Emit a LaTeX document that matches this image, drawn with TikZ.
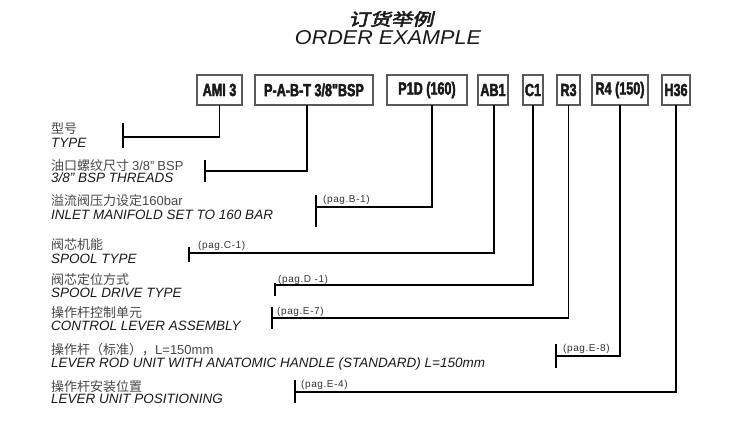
\documentclass[tikz,border=0pt]{standalone}
\usepackage{fontspec}
\setmainfont{Liberation Sans}
\newfontfamily\cjk{Noto Sans CJK SC}
\newfontfamily\lat{Liberation Sans}
\newfontfamily\cjktitle[FakeSlant=0.22,FakeStretch=1.25,FakeBold=3]{Noto Sans CJK SC}
\newfontfamily\titlefont[FakeStretch=1.08]{Liberation Sans}
\newfontfamily\boxfont[FakeStretch=0.72,FakeBold=2.5]{Liberation Sans Bold}
\newfontfamily\pagfont[LetterSpace=6]{Liberation Sans}
\begin{document}
\begin{tikzpicture}[x=1pt,y=-1pt,
  codebox/.style={draw=black!65, line width=1.2pt, minimum height=30pt, inner sep=0pt,
    font=\boxfont\fontsize{17.5}{17.5}\selectfont, text=black!90},
  conn/.style={line width=1.7pt, line cap=rect},
  tickline/.style={line width=1.7pt},
  pag/.style={anchor=base west, inner sep=0pt, font=\pagfont\fontsize{10}{10}\selectfont, text=black!80},
  zh/.style={anchor=base west, inner sep=0pt, font=\cjk\fontsize{13}{13}\selectfont, text=black!72},
  en/.style={anchor=base west, inner sep=0pt, font=\itshape\fontsize{13.5}{13.5}\selectfont, text=black!90}]
\useasboundingbox (0,0) rectangle (753,433);

% titles
\node[inner sep=0pt, font=\cjktitle\fontsize{17}{17}\selectfont, text=black!90] (tzh) at (391,19) {订货举例};
\node[anchor=base, inner sep=0pt, font=\titlefont\itshape\fontsize{20}{20}\selectfont, text=black!90] (ten) at (388,45) {ORDER EXAMPLE};

% code boxes
\node[codebox, minimum width=45pt]  (ami)  at (219.5,90) {AMI 3};
\node[codebox, minimum width=118pt] (pabt) at (314,90)   {P-A-B-T 3/8"BSP};
\node[codebox, minimum width=80pt]  (p1d)  at (427,90)   {P1D (160)};
\node[codebox, minimum width=30pt]  (ab1)  at (493,90)   {AB1};
\node[codebox, minimum width=20pt]  (c1)   at (533,90)   {C1};
\node[codebox, minimum width=23pt]  (r3)   at (568.5,90) {R3};
\node[codebox, minimum width=56pt]  (r4)   at (620,90)   {R4 (150)};
\node[codebox, minimum width=28pt]  (h36)  at (676,90)   {H36};

% left labels
\node[zh] (z1) at (51,134) {型号};
\node[en] (e1) at (51,148) {TYPE};
\node[zh] (z2) at (51,171) {油口螺纹尺寸 {\lat 3/8”} {\lat BSP}};
\node[en] (e2) at (51,183) {3/8" BSP THREADS};
\node[zh] (z3) at (51,206) {溢流阀压力设定{\lat 160bar}};
\node[en] (e3) at (51,220) {INLET MANIFOLD SET TO 160 BAR};
\node[zh] (z4) at (51,249) {阀芯机能};
\node[en] (e4) at (51,263) {SPOOL TYPE};
\node[zh] (z5) at (51,284) {阀芯定位方式};
\node[en] (e5) at (51,297) {SPOOL DRIVE TYPE};
\node[zh] (z6) at (51,317) {操作杆控制单元};
\node[en] (e6) at (51,330) {CONTROL LEVER ASSEMBLY};
\node[zh] (z7) at (51,354) {操作杆（标准），{\lat L=150mm}};
\node[en] (e7) at (51,367) {LEVER ROD UNIT WITH ANATOMIC HANDLE (STANDARD) L=150mm};
\node[zh] (z8) at (51,391) {操作杆安装位置};
\node[en] (e8) at (51,403) {LEVER UNIT POSITIONING};

% page references
\node[pag] (pB) at (323,203) {(pag.B-1)};
\node[pag] (pC) at (198,248) {(pag.C-1)};
\node[pag] (pD) at (278,282) {(pag.D -1)};
\node[pag] (pE7) at (277,314) {(pag.E-7)};
\node[pag] (pE8) at (563,351) {(pag.E-8)};
\node[pag] (pE4) at (301,387) {(pag.E-4)};

% connector end points (on the ticks)
\coordinate (t1) at (123,137);
\coordinate (t2) at (205,171);
\coordinate (t3) at (316,207);
\coordinate (t4) at (189,253);
\coordinate (t5) at (275,285);
\coordinate (t6) at (272,318);
\coordinate (t7) at (556,356);
\coordinate (t8) at (295,392);

% ticks
\draw[tickline] (t1) ++(0,-14) -- ++(0,25);
\draw[tickline] (t2) ++(0,-11) -- ++(0,22);
\draw[tickline] (t3) ++(0,-12) -- ++(0,32);
\draw[tickline] (t4) ++(0,-6) -- ++(0,15);
\draw[tickline] (t5) ++(0,-2) -- ++(0,13);
\draw[tickline] (t6) ++(0,-11) -- ++(0,22);
\draw[tickline] (t7) ++(0,-12) -- ++(0,24);
\draw[tickline] (t8) ++(0,-12) -- ++(0,23);

% connectors
\draw[conn] (ami.south) |- (t1);
\draw[conn] ([xshift=-7pt]pabt.south) |- (t2);
\draw[conn] ([xshift=5pt]p1d.south) |- (t3);
\draw[conn] ([xshift=1pt]ab1.south) |- (t4);
\draw[conn] (c1.south) |- (t5);
\draw[conn] (r3.south) |- (t6);
\draw[conn] (r4.south) |- (t7);
\draw[conn] (h36.south) |- (t8);
\end{tikzpicture}
\end{document}
